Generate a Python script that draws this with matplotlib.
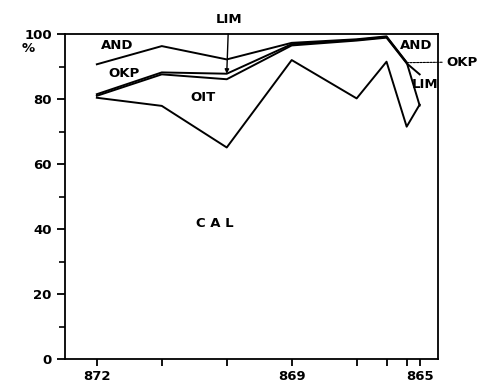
import numpy as np
import matplotlib
matplotlib.use('Agg')
import matplotlib.pyplot as plt

# stations (km) along the x axis, uneven spacing as in the figure
stations = [872, 871, 870, 869, 868, 867, 866, 865]
station_pos = [0, 1, 2, 3, 4, 4.46, 4.77, 4.97]
tick_labels = ['872', '', '', '869', '', '', '', '865']

AND = [90.7, 96.3, 92.2, 97.3, 98.4, 99.3, 91.3, 78.0]
OKP = [81.5, 88.2, 87.8, 96.9, 98.2, 99.1, 91.2, np.nan]
LIM = [81.0, 87.6, 86.1, 96.5, 98.0, 98.9, 91.0, 87.6]
OIT = [80.4, 77.9, 65.1, 92.0, 80.2, 91.5, 71.5, 78.3]

plt.rcParams['font.weight'] = 'bold'

fig = plt.figure(figsize=(4.78, 3.85), dpi=100)
ax = fig.add_axes([0.136, 0.0675, 0.780, 0.844])

for s in [AND, OKP, LIM, OIT]:
    ax.plot(station_pos, s, color='black', lw=1.4)

ax.set_xlim(-0.49, 5.25)
ax.set_ylim(0, 100)
ax.set_xticks(station_pos)
ax.set_xticklabels(tick_labels)
ax.set_yticks([0, 20, 40, 60, 80, 100])
ax.set_yticks([10, 30, 50, 70, 90], minor=True)
ax.tick_params(axis='both', which='major', direction='out', length=6, width=1.3,
               labelsize=9.5)
ax.tick_params(axis='x', which='major', length=5, pad=3)
ax.tick_params(axis='y', which='minor', direction='out', length=4, width=1.2)
for sp in ax.spines.values():
    sp.set_linewidth(1.3)

fs = 9.5
ax.text(0.31, 96.6, 'AND', fontsize=fs, ha='center', va='center')
ax.text(0.42, 88.0, 'OKP', fontsize=fs, ha='center', va='center')
ax.text(1.63, 80.6, 'OIT', fontsize=fs, ha='center', va='center')
ax.text(1.82, 41.8, 'C A L', fontsize=fs, ha='center', va='center')
ax.text(4.92, 96.6, 'AND', fontsize=fs, ha='center', va='center')
ax.text(5.05, 84.6, 'LIM', fontsize=fs, ha='center', va='center')
ax.text(-1.05, 95.5, '%', fontsize=fs, ha='center', va='center')

# OKP leader on the right
ax.annotate('OKP', xy=(4.77, 91.2), xytext=(5.38, 91.4), fontsize=fs,
            ha='left', va='center', annotation_clip=False,
            arrowprops=dict(arrowstyle='-', lw=0.8, ls=(0, (2, 1)),
                            color='black', shrinkA=1, shrinkB=0))

# LIM pointer at 870
ax.annotate('LIM', xy=(2, 87.8), xytext=(2.03, 104.6), fontsize=fs,
            ha='center', va='center', annotation_clip=False,
            arrowprops=dict(arrowstyle='-|>', lw=1.0, color='black',
                            mutation_scale=6, shrinkA=4, shrinkB=0))

fig.savefig('out.png', dpi=100)
